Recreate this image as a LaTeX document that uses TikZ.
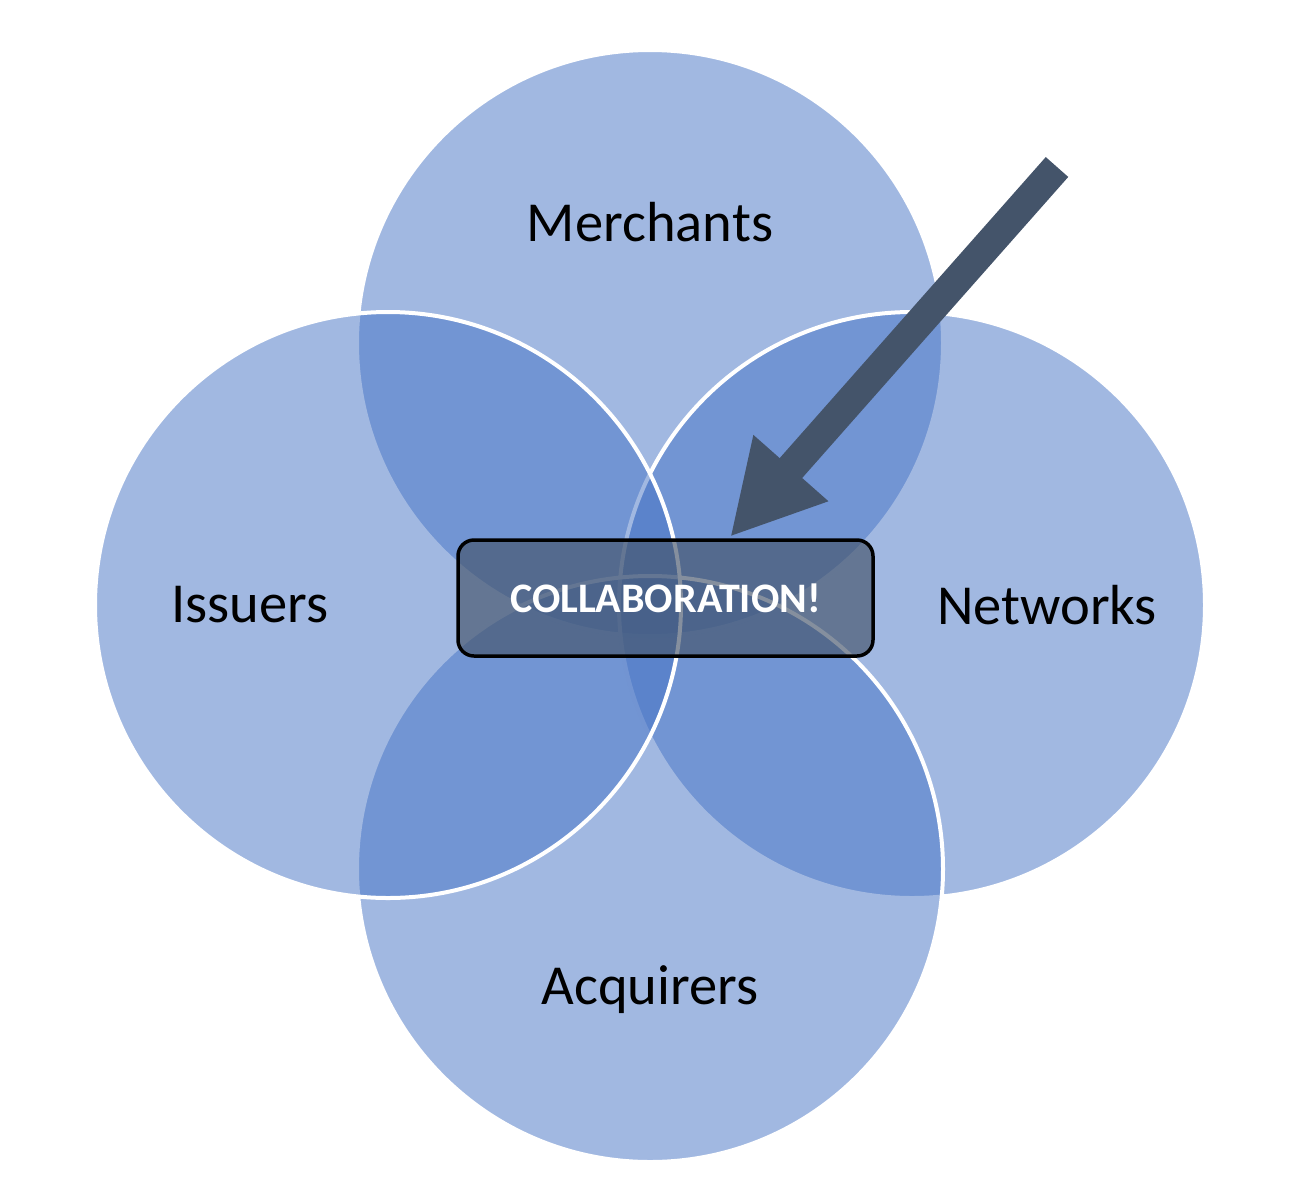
\documentclass[tikz,border=0pt]{standalone}
\usepackage{fontspec}
\setmainfont{Carlito}
\usetikzlibrary{arrows.meta}
\definecolor{VennFill}{HTML}{4472C4}
\definecolor{SlateDark}{HTML}{44546A}

\tikzset{
  venn/.style={circle, inner sep=0pt, minimum size=586pt, fill=VennFill, fill opacity=0.5, draw=white, line width=4pt},
  vennlabel/.style={text=black, font=\fontsize{56.5}{62}\selectfont},
  collabbox/.style={rectangle, rounded corners=16pt, minimum width=415pt, minimum height=116pt, draw=black, line width=3.5pt, fill=SlateDark, fill opacity=0.65, text opacity=1, text=white, font=\bfseries\fontsize{42}{47}\selectfont},
  pointer/.style={draw=SlateDark, line width=30pt, -{Triangle[length=92pt, width=93pt]}}
}

\begin{document}
\begin{tikzpicture}[x=1pt, y=-1pt]

  \useasboundingbox (0,0) rectangle (1304,1176);

  % Kreise (Reihenfolge bestimmt, welche weissen Raender sichtbar bleiben)
  \node[venn] (merchants) at (650,343) {};
  \node[venn] (networks)  at (912,605) {};
  \node[venn] (acquirers) at (650,869) {};
  \node[venn] (issuers)   at (388,605) {};

  % Beschriftungen
  \node[vennlabel] (merchantslabel) at (650,222) {Merchants};
  \node[vennlabel] (issuerslabel)   at (250,605) {Issuers};
  \node[vennlabel] (networkslabel)  at (1047,605) {Networks};
  \node[vennlabel] (acquirerslabel) at (650,990) {Acquirers};

  % Schnittmenge
  \node[collabbox] (collab) at (665.5,598) {COLLABORATION!};

  % Pfeil
  \coordinate (arrowtail) at (1057,167);
  \coordinate (arrowtip) at (730,537);
  \draw[pointer] (arrowtail) -- (arrowtip);

\end{tikzpicture}
\end{document}
